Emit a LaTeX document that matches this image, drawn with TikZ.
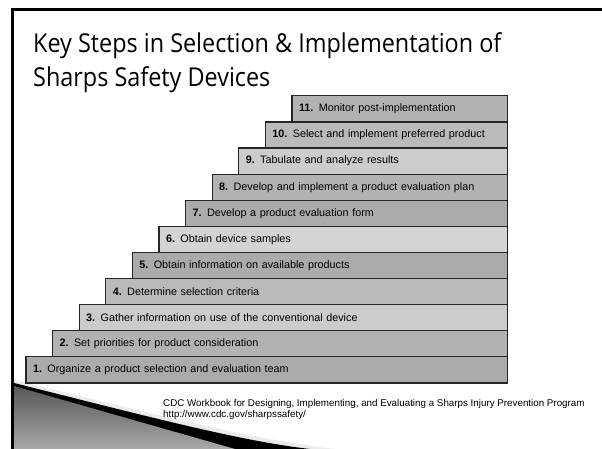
\documentclass[tikz,border=0pt]{standalone}
\usepackage{fontspec}
\setmainfont{Liberation Sans}
\newfontfamily\ttlfont[FakeStretch=0.9]{Open Sans}
\usetikzlibrary{positioning}
\tikzset{
  sx/.style={rectangle, draw=black!85, line width=1.2pt, minimum height=26.1pt, inner sep=0pt, inner xsep=7pt, outer sep=0pt, align=left, fill=black!17, font=\fontsize{10.8}{13}\selectfont},
  sl/.style={sx, fill=black!20},
  sm/.style={sx, fill=black!27},
  sn/.style={sx, fill=black!30},
  sd/.style={sx, fill=black!33},
  ttl/.style={anchor=base west, align=left, inner sep=0pt, font=\ttlfont\fontsize{26}{34}\selectfont},
  src/.style={anchor=base west, align=left, inner sep=0pt, font=\fontsize{9.8}{11.7}\selectfont}
}

\begin{document}
\begin{tikzpicture}[x=1pt, y=1pt]
	\useasboundingbox (0,0) rectangle (602,449);
	% slide frame and corner wedge
	\draw[line width=3pt] (602,439.3) -- (12.5,439.3) -- (12.5,0);
	\fill[black!8] (14,69) .. controls (150,36) and (250,10) .. (335,0) -- (310,0) .. controls (240,8) and (150,32) .. (14,66) -- cycle;
	\fill[black] (14,66) .. controls (150,32) and (240,8) .. (310,0) -- (14,0) -- cycle;
	\shade[top color=black!66, bottom color=black!34] (14,63) -- (235,0) -- (14,0) -- cycle;
	%
	\node[ttl] (title) at (33,362) {Key Steps in Selection \& Implementation of\\Sharps Safety Devices};
	%
	\node[sd, text width=467.5pt, anchor=south west] (s1) at (26,66) {\textbf{1.} Organize a product selection and evaluation team};
	\node[sn, text width=440.9pt, above left=0pt and 0pt of s1.north east] (s2) {\textbf{2.} Set priorities for product consideration};
	\node[sl, text width=414.3pt, above left=0pt and 0pt of s2.north east] (s3) {\textbf{3.} Gather information on use of the conventional device};
	\node[sm, text width=387.7pt, above left=0pt and 0pt of s3.north east] (s4) {\textbf{4.} Determine selection criteria};
	\node[sd, text width=361.1pt, above left=0pt and 0pt of s4.north east] (s5) {\textbf{5.} Obtain information on available products};
	\node[sx, text width=334.5pt, above left=0pt and 0pt of s5.north east] (s6) {\textbf{6.} Obtain device samples};
	\node[sd, text width=307.9pt, above left=0pt and 0pt of s6.north east] (s7) {\textbf{7.} Develop a product evaluation form};
	\node[sn, text width=281.3pt, above left=0pt and 0pt of s7.north east] (s8) {\textbf{8.} Develop and implement a product evaluation plan};
	\node[sl, text width=254.7pt, above left=0pt and 0pt of s8.north east] (s9) {\textbf{9.} Tabulate and analyze results};
	\node[sm, text width=228.1pt, above left=0pt and 0pt of s9.north east] (s10) {\textbf{10.} Select and implement preferred product};
	\node[sn, text width=201.5pt, above left=0pt and 0pt of s10.north east] (s11) {\textbf{11.} Monitor post-implementation};
	%
	\node[src] (source) at (163,31) {CDC Workbook for Designing, Implementing, and Evaluating a Sharps Injury Prevention Program\\http://www.cdc.gov/sharpssafety/};
\end{tikzpicture}
\end{document}
